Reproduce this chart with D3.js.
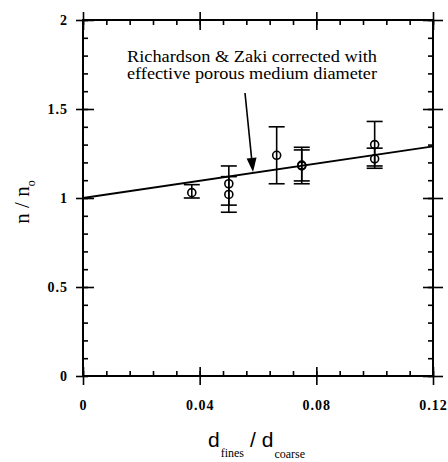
<!DOCTYPE html>
<html>
<head>
<meta charset="utf-8">
<script src="https://cdn.jsdelivr.net/npm/d3@7"></script>
<style>
  body { margin: 0; background: #fff; }
  svg { display: block; }
  .tick line { stroke: #000; stroke-width: 1.6; }
</style>
</head>
<body>
<div id="chart"></div>
<script>
// data
const ratio = [0.0373, 0.05, 0.05, 0.0664, 0.075, 0.075, 0.1, 0.1];
const nRatio = [1.03, 1.08, 1.02, 1.24, 1.18, 1.185, 1.30, 1.22];
const errLow = [1.00, 0.96, 0.92, 1.08, 1.08, 1.096, 1.18, 1.167];
const errHigh = [1.075, 1.18, 1.12, 1.40, 1.285, 1.27, 1.43, 1.28];

// Richardson & Zaki corrected line
const lineX = [0, 0.12];
const lineY = [1.0, 1.29];

const xMajor = [0, 0.04, 0.08, 0.12];
const xMinor = d3.range(0, 0.1201, 0.008);
const yMajor = [0, 0.5, 1, 1.5, 2];
const yMinor = d3.range(0, 2.001, 0.1);
const xLabels = ["0", "0.04", "0.08", "0.12"];
const yLabels = ["0", "0.5", "1", "1.5", "2"];

const serif = "Liberation Serif, Times New Roman, serif";
const width = 448, height = 462;

const x = d3.scaleLinear().domain([0, 0.12]).range([83, 433]);
const y = d3.scaleLinear().domain([0, 2]).range([376, 20]);

const svg = d3.select("#chart").append("svg")
    .attr("width", width)
    .attr("height", height);

// frame
svg.append("rect")
    .attr("x", x(0)).attr("y", y(2))
    .attr("width", x(0.12) - x(0)).attr("height", y(0) - y(2))
    .attr("fill", "none").attr("stroke", "#000").attr("stroke-width", 2);

function addAxis(axis, tx, ty) {
    const g = svg.append("g").attr("transform", `translate(${tx},${ty})`).call(axis);
    g.select(".domain").remove();
    g.attr("font-family", serif).attr("font-size", 14).attr("font-weight", "bold");
    g.selectAll("text").attr("letter-spacing", 1).attr("fill", "#000");
    return g;
}

// bottom
addAxis(d3.axisBottom(x).tickValues(xMajor).tickSize(9).tickPadding(15)
    .tickFormat((d, i) => xLabels[i]), 0, y(0));
addAxis(d3.axisTop(x).tickValues(xMajor).tickSize(9).tickFormat(""), 0, y(0));
addAxis(d3.axisTop(x).tickValues(xMinor).tickSize(5).tickFormat(""), 0, y(0));
// top
addAxis(d3.axisTop(x).tickValues(xMajor).tickSize(8).tickFormat(""), 0, y(2));
addAxis(d3.axisBottom(x).tickValues(xMajor).tickSize(10).tickFormat(""), 0, y(2));
addAxis(d3.axisBottom(x).tickValues(xMinor).tickSize(5).tickFormat(""), 0, y(2));
// left
addAxis(d3.axisLeft(y).tickValues(yMajor).tickSize(7).tickPadding(8)
    .tickFormat((d, i) => yLabels[i]), x(0), 0);
addAxis(d3.axisRight(y).tickValues(yMajor.slice(1)).tickSize(11).tickFormat(""), x(0), 0);
addAxis(d3.axisRight(y).tickValues(yMinor).tickSize(5).tickFormat(""), x(0), 0);
// right
addAxis(d3.axisRight(y).tickValues(yMajor).tickSize(10).tickFormat(""), x(0.12), 0);
addAxis(d3.axisLeft(y).tickValues(yMajor).tickSize(10).tickFormat(""), x(0.12), 0);
addAxis(d3.axisLeft(y).tickValues(yMinor).tickSize(5).tickFormat(""), x(0.12), 0);

// corrected line
svg.append("line")
    .attr("x1", x(lineX[0])).attr("y1", y(lineY[0]))
    .attr("x2", x(lineX[1])).attr("y2", y(lineY[1]))
    .attr("stroke", "#000").attr("stroke-width", 1.8);

// error bars
const pts = ratio.map((r, i) => ({ r, v: nRatio[i], lo: errLow[i], hi: errHigh[i] }));
const bars = svg.append("g").attr("stroke", "#000").attr("stroke-width", 1.6);
bars.selectAll(".stem").data(pts).join("line")
    .attr("x1", d => x(d.r)).attr("x2", d => x(d.r))
    .attr("y1", d => y(d.lo)).attr("y2", d => y(d.hi));
bars.selectAll(".caplo").data(pts).join("line")
    .attr("x1", d => x(d.r) - 8).attr("x2", d => x(d.r) + 8)
    .attr("y1", d => y(d.lo)).attr("y2", d => y(d.lo));
bars.selectAll(".caphi").data(pts).join("line")
    .attr("x1", d => x(d.r) - 8).attr("x2", d => x(d.r) + 8)
    .attr("y1", d => y(d.hi)).attr("y2", d => y(d.hi));

svg.append("g").selectAll("circle").data(pts).join("circle")
    .attr("cx", d => x(d.r)).attr("cy", d => y(d.v)).attr("r", 4)
    .attr("fill", "none").attr("stroke", "#000").attr("stroke-width", 1.6);

// annotation
const note = svg.append("g")
    .attr("font-family", serif)
    .attr("font-size", 16)
    .attr("text-anchor", "middle");
note.append("text").attr("x", 252).attr("y", 62)
    .attr("textLength", 250).attr("lengthAdjust", "spacingAndGlyphs")
    .text("Richardson & Zaki corrected with");
note.append("text").attr("x", 252).attr("y", 79)
    .attr("textLength", 250).attr("lengthAdjust", "spacingAndGlyphs")
    .text("effective porous medium diameter");

// arrow
const ax0 = 245, ay0 = 93, ax1 = 253, ay1 = 172;
const ang = Math.atan2(ay1 - ay0, ax1 - ax0);
svg.append("line")
    .attr("x1", ax0).attr("y1", ay0).attr("x2", ax1 - 12 * Math.cos(ang)).attr("y2", ay1 - 12 * Math.sin(ang))
    .attr("stroke", "#000").attr("stroke-width", 1.6);
const hl = 14, hw = 5;
const bx = ax1 - hl * Math.cos(ang), by = ay1 - hl * Math.sin(ang);
svg.append("path")
    .attr("d", `M${ax1},${ay1}L${bx + hw * Math.sin(ang)},${by - hw * Math.cos(ang)}L${bx - hw * Math.sin(ang)},${by + hw * Math.cos(ang)}Z`)
    .attr("fill", "#000");

// axis titles
const ylab = svg.append("text")
    .attr("transform", "translate(29,202) rotate(-90)")
    .attr("font-family", serif)
    .attr("font-size", 21)
    .attr("text-anchor", "middle");
ylab.append("tspan").text("n / n");
ylab.append("tspan").attr("font-size", 12).attr("dy", 6).text("o");

const xlab = svg.append("text")
    .attr("x", 208).attr("y", 447)
    .attr("font-family", "Liberation Sans, Arial, sans-serif")
    .attr("font-size", 21);
xlab.append("tspan").text("d");
xlab.append("tspan").attr("font-size", 12).attr("font-family", serif).attr("dy", 10).attr("dx", 1).text("fines");
xlab.append("tspan").attr("dy", -10).attr("dx", 6).text("/ d");
xlab.append("tspan").attr("font-size", 12).attr("font-family", serif).attr("dy", 11).attr("dx", 1).text("coarse");
</script>
</body>
</html>
